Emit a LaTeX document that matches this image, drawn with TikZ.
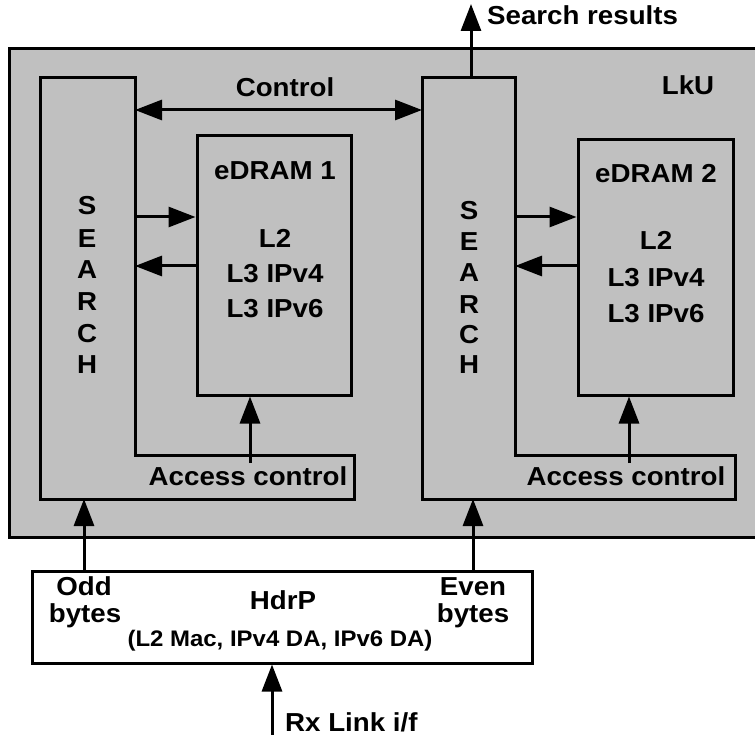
\documentclass[tikz,border=0pt]{standalone}
\usepackage{fontspec}
\setmainfont{Liberation Sans}[FakeStretch=1.065]
\usetikzlibrary{arrows.meta}
\definecolor{lkugray}{RGB}{192,192,192}
\tikzset{
  wire/.style={line width=3pt},
  blk/.style={draw, line width=3pt, fill=lkugray, inner sep=0pt},
  lbl/.style={font=\fontsize{26}{31}\selectfont\bfseries, inner sep=0pt},
  slbl/.style={font=\fontsize{22.5}{27}\selectfont\bfseries, inner sep=0pt},
  arr/.style={wire, -{Triangle[length=27pt,width=20pt]}},
  darr/.style={wire, {Triangle[length=27pt,width=20pt]}-{Triangle[length=27pt,width=20pt]}}
}
\begin{document}
\begin{tikzpicture}[x=1pt,y=-1pt]
\useasboundingbox (0,0) rectangle (755,735);

% LkU enclosure (runs off the right edge)
\fill[lkugray] (9,49) rectangle (756,537);
\draw[wire] (756,49) -- (9,49) -- (9,537) -- (756,537);
\node[lbl, anchor=base] (lku) at (688,95) {LkU};

% SEARCH blocks with their access-control strips
\draw[blk] (40,78) -- (135,78) -- (135,455) -- (354,455) -- (354,499) -- (40,499) -- cycle;
\draw[blk] (422,78) -- (515,78) -- (515,455) -- (735,455) -- (735,499) -- (422,499) -- cycle;

\foreach \ch/\yy [count=\i] in {S/215,E/248,A/279,R/311,C/342,H/373}
  \node[lbl, anchor=base] (sa\i) at (87,\yy) {\ch};
\foreach \ch/\yy [count=\i] in {S/220,E/251,A/282,R/313,C/343,H/373}
  \node[lbl, anchor=base] (sb\i) at (469,\yy) {\ch};

\node[lbl, anchor=base] (acc1) at (248,485) {Access control};
\node[lbl, anchor=base] (acc2) at (626,485) {Access control};

% eDRAM blocks
\node[blk, minimum width=154pt, minimum height=259pt] (edram1) at (274,265.5) {};
\node[blk, minimum width=155pt, minimum height=255pt] (edram2) at (655.5,267.5) {};

\node[lbl, anchor=base] (e1t) at (275,180) {eDRAM 1};
\node[lbl, anchor=base] (e1a) at (275,248) {L2};
\node[lbl, anchor=base] (e1b) at (275,283) {L3 IPv4};
\node[lbl, anchor=base] (e1c) at (275,318) {L3 IPv6};

\node[lbl, anchor=base] (e2t) at (656,183) {eDRAM 2};
\node[lbl, anchor=base] (e2a) at (656,250) {L2};
\node[lbl, anchor=base] (e2b) at (656,287) {L3 IPv4};
\node[lbl, anchor=base] (e2c) at (656,323) {L3 IPv6};

% header parser
\node[draw, line width=3pt, fill=white, minimum width=500pt, minimum height=92pt, inner sep=0pt] (hdr) at (282,617) {};
\node[lbl, anchor=base] (odd1) at (84,595) {Odd};
\node[lbl, anchor=base] (odd2) at (85,622) {bytes};
\node[lbl, anchor=base] (even1) at (473,595) {Even};
\node[lbl, anchor=base] (even2) at (473,622) {bytes};
\node[lbl, anchor=base] (hdrp) at (283,609) {HdrP};
\node[slbl, anchor=base] (fields) at (280,646) {(L2 Mac, IPv4 DA, IPv6 DA)};

% connection points on the SEARCH blocks
\coordinate (c1) at (135,110);
\coordinate (c2) at (422,110);
\coordinate (s1a) at (135,217);
\coordinate (s1b) at (135,266);
\coordinate (s2a) at (515,217);
\coordinate (s2b) at (515,266);
\coordinate (ac1) at (250,463);
\coordinate (ac2) at (629,463);
\coordinate (s1bot) at (84,499);
\coordinate (s2bot) at (473,499);
\coordinate (s2top) at (471,78);
\coordinate (restip) at (471,4);
\coordinate (rxsrc) at (272,736);

% connectors
\draw[darr] (c1) -- (c2);
\node[lbl, anchor=base] (ctl) at (285,97) {Control};

\draw[arr] (s1a) -- (s1a -| edram1.west);
\draw[arr] (s1b -| edram1.west) -- (s1b);
\draw[arr] (s2a) -- (s2a -| edram2.west);
\draw[arr] (s2b -| edram2.west) -- (s2b);

\draw[arr] (ac1) -- (ac1 |- edram1.south);
\draw[arr] (ac2) -- (ac2 |- edram2.south);

\draw[arr] (s1bot |- hdr.north) -- (s1bot);
\draw[arr] (s2bot |- hdr.north) -- (s2bot);

\draw[arr] (s2top) -- (restip);
\node[lbl, anchor=base west] (res) at (487,25) {Search results};

\draw[arr] (rxsrc) -- (rxsrc |- hdr.south);
\node[lbl, anchor=base west] (rx) at (285,731) {Rx Link i/f};
\end{tikzpicture}
\end{document}
